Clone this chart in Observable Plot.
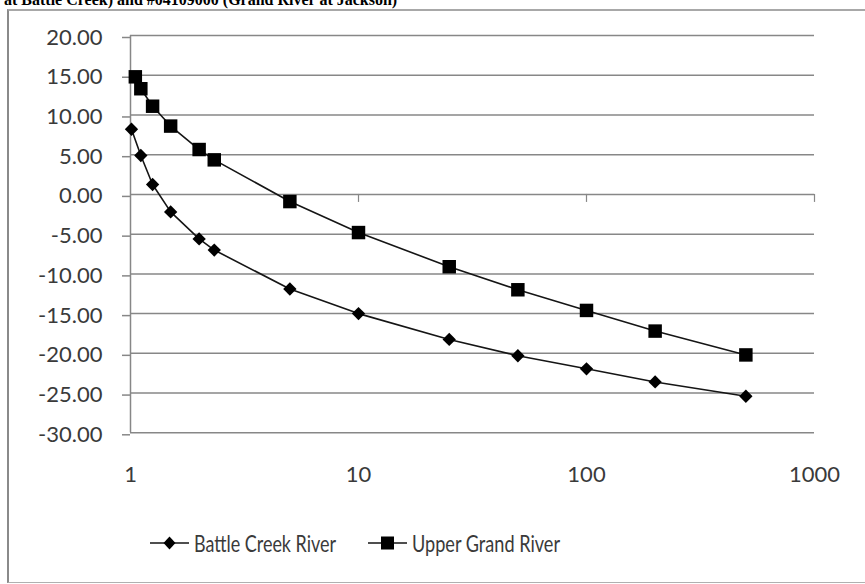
<!DOCTYPE html>
<html>
<head>
<meta charset="utf-8">
<script src="https://cdn.jsdelivr.net/npm/d3@7"></script>
<script src="https://cdn.jsdelivr.net/npm/@observablehq/plot@0.6"></script>
<style>
  html, body { margin: 0; padding: 0; background: #fff; }
  body { position: relative; width: 865px; height: 584px; overflow: hidden; }
  #title { position: absolute; left: 0; top: 0; overflow: hidden; }
  #frame { position: absolute; left: 7px; top: 9px; width: 900px; height: 574px; box-sizing: border-box;
           border-top: 2px solid #a8a8a8; border-bottom: 1px solid #b0b0b0; border-left: 2px solid #8a8a8a; background: #fff; }
  #chart { position: absolute; left: 0; top: 0; }
  #legend { position: absolute; left: 0; top: 0; pointer-events: none; }
</style>
</head>
<body>
<svg id="title" width="865" height="9"><text x="4" y="5" font-family="Liberation Serif, Times New Roman, serif" font-weight="bold" font-size="16" fill="#000">at Battle Creek) and #04109000 (Grand River at Jackson)</text></svg>
<div id="frame"></div>
<div id="chart"></div>
<svg id="legend" width="865" height="584"></svg>
<script>
// ---- data ----
const seriesNames = ["Battle Creek River", "Upper Grand River"];
const returnPeriodsBattle = [1.01, 1.11, 1.25, 1.5, 2, 2.33, 5, 10, 25, 50, 100, 200, 500];
const returnPeriodsGrand  = [1.05, 1.11, 1.25, 1.5, 2, 2.33, 5, 10, 25, 50, 100, 200, 500];
const battleCreek = [8.2, 4.9, 1.25, -2.2, -5.6, -7.0, -11.9, -15.0, -18.25, -20.3, -21.95, -23.6, -25.4];
const upperGrand  = [14.8, 13.3, 11.1, 8.6, 5.65, 4.35, -0.9, -4.8, -9.1, -12.0, -14.6, -17.2, -20.2];
const yTicks = [20, 15, 10, 5, 0, -5, -10, -15, -20, -25, -30];
const xTicks = [1, 10, 100, 1000];

const battle = returnPeriodsBattle.map((x, i) => ({series: seriesNames[0], x, y: battleCreek[i]}));
const grand  = returnPeriodsGrand.map((x, i) => ({series: seriesNames[1], x, y: upperGrand[i]}));

const gridColor = "#878787";
const textColor = "#3a3a3a";

const chart = Plot.plot({
  width: 865,
  height: 584,
  marginLeft: 130,
  marginRight: 51,
  marginTop: 35,
  marginBottom: 151.7,
  style: {fontFamily: "Lato, 'Open Sans', sans-serif", fontSize: "22px", background: "transparent", color: textColor},
  x: {type: "log", domain: [1, 1000]},
  y: {domain: [-30, 20]},
  marks: [
    Plot.gridY(yTicks, {stroke: gridColor, strokeOpacity: 1, strokeWidth: 1.5}),
    Plot.ruleX([1], {stroke: gridColor, strokeWidth: 1.5}),
    Plot.ruleX(xTicks.slice(1), {y1: 0, y2: 0, insetBottom: -8, stroke: gridColor, strokeWidth: 1.2}),
    Plot.axisY({ticks: yTicks, tickFormat: d => d.toFixed(2), tickSize: 8, tickPadding: 20,
                stroke: gridColor, strokeWidth: 1.5, fill: textColor, fontSize: 22, label: null, dy: 2}),
    Plot.axisX({ticks: xTicks, tickFormat: d => String(d), tickSize: 0, tickPadding: 34,
                fill: textColor, fontSize: 22, label: null}),
    Plot.line(battle, {x: "x", y: "y", stroke: "#151515", strokeWidth: 1.6}),
    Plot.line(grand, {x: "x", y: "y", stroke: "#151515", strokeWidth: 1.6}),
    Plot.dot(battle, {x: "x", y: "y", symbol: "diamond2", r: 6, fill: "#000", stroke: "none"}),
    Plot.dot(grand, {x: "x", y: "y", symbol: "square", r: 7.6, fill: "#000", stroke: "none"})
  ]
});
document.getElementById("chart").appendChild(chart);

// ---- legend ----
const lg = d3.select("#legend");
const legendItems = [
  {name: seriesNames[0], x0: 150, type: "diamond", len: 142},
  {name: seriesNames[1], x0: 368, type: "square", len: 148}
];
const ly = 543;
legendItems.forEach(it => {
  lg.append("line").attr("x1", it.x0).attr("x2", it.x0 + 39).attr("y1", ly).attr("y2", ly)
    .attr("stroke", "#151515").attr("stroke-width", 1.6);
  const cx = it.x0 + 19.5;
  if (it.type === "diamond") {
    lg.append("path").attr("d", `M${cx},${ly-6.5}L${cx+6},${ly}L${cx},${ly+6.5}L${cx-6},${ly}Z`).attr("fill", "#000");
  } else {
    lg.append("rect").attr("x", cx - 6.5).attr("y", ly - 6.5).attr("width", 13).attr("height", 13).attr("fill", "#000");
  }
  lg.append("text").attr("x", it.x0 + 44).attr("y", 552)
    .attr("font-family", "Lato, 'Open Sans', sans-serif")
    .attr("font-size", 23).attr("fill", textColor)
    .attr("textLength", it.len).attr("lengthAdjust", "spacingAndGlyphs")
    .text(it.name);
});
</script>
</body>
</html>
